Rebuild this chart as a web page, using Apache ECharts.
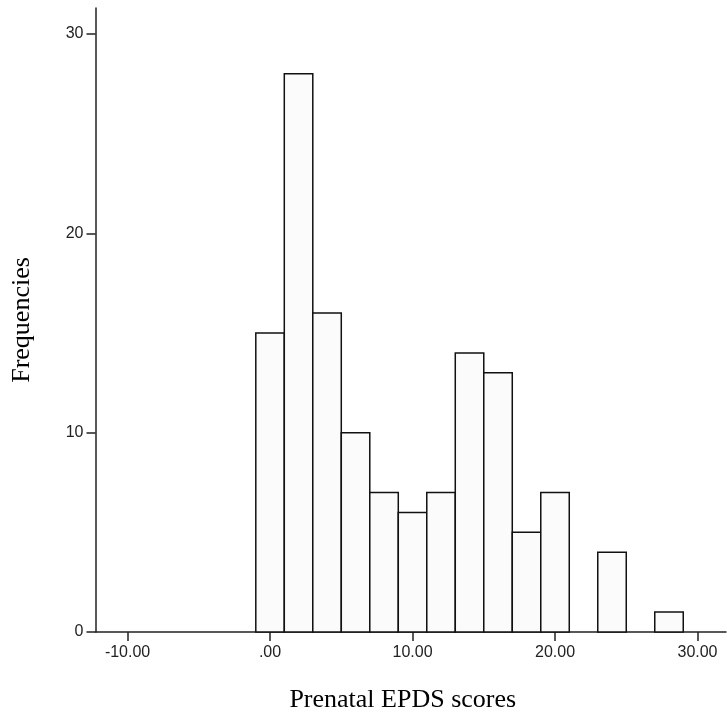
<!DOCTYPE html>
<html>
<head>
<meta charset="utf-8">
<script src="https://cdn.jsdelivr.net/npm/echarts@6/dist/echarts.min.js"></script>
<style>
    html, body { margin: 0; padding: 0; background: #fff; }
    #histChart { width: 727px; height: 722px; }
</style>
</head>
<body>
<div id="histChart"></div>
<script>
// histogram bins (left edge of each bin) and their frequencies
const binStarts = [-1, 1, 3, 5, 7, 9, 11, 13, 15, 17, 19, 21, 23, 25, 27];
const counts = [15, 28, 16, 10, 7, 6, 7, 14, 13, 5, 7, 0, 4, 0, 1];
const binWidth = 2;
const xTicks = [-10, 0, 10, 20, 30];
const yTicks = [0, 10, 20, 30];

// SPSS style labels: .00 / 10.00 / -10.00
function fmtX (v) {
    let s = Math.abs(v).toFixed(2);
    if (s.charAt(0) === '0') s = s.substring(1);
    return (v < 0 ? '-' : '') + s;
}

const barData = binStarts.map((s, i) => [s, s + binWidth, counts[i]]);

const myChart = echarts.init(document.getElementById('histChart'));
const option = {
    backgroundColor: '#fff',
    animation: false,
    grid: {
        left: 95.5,
        right: 1,
        top: 8,
        bottom: 90
    },
    xAxis: {
        type: 'value',
        min: -12.25,
        max: 32,
        name: 'Prenatal EPDS scores',
        nameLocation: 'middle',
        nameGap: 55,
        nameTextStyle: {
            fontFamily: 'Liberation Serif',
            fontSize: 26,
            color: '#000',
            padding: [0, 16, 0, 0]
        },
        splitLine: { show: false },
        axisLine: { onZero: false, lineStyle: { color: '#222', width: 1.5 } },
        axisTick: { customValues: xTicks, length: 9, lineStyle: { color: '#222', width: 1.5 } },
        axisLabel: {
            customValues: xTicks,
            formatter: fmtX,
            margin: 13,
            fontFamily: 'Liberation Sans',
            fontSize: 16,
            color: '#222'
        }
    },
    yAxis: {
        type: 'value',
        min: 0,
        max: 31.3,
        name: 'Frequencies',
        nameLocation: 'middle',
        nameGap: 60,
        nameTextStyle: {
            fontFamily: 'Liberation Serif',
            fontSize: 26,
            color: '#000'
        },
        splitLine: { show: false },
        axisLine: { show: true, onZero: false, lineStyle: { color: '#222', width: 1.5 } },
        axisTick: { show: true, customValues: yTicks, length: 9, lineStyle: { color: '#222', width: 1.5 } },
        axisLabel: {
            customValues: yTicks,
            margin: 12,
            fontFamily: 'Liberation Sans',
            fontSize: 16,
            color: '#222'
        }
    },
    series: [
        {
            type: 'custom',
            data: barData,
            renderItem: function (params, api) {
                if (!api.value(2)) return;
                const p0 = api.coord([api.value(0), 0]);
                const p1 = api.coord([api.value(1), api.value(2)]);
                return {
                    type: 'rect',
                    shape: { x: p0[0], y: p1[1], width: p1[0] - p0[0], height: p0[1] - p1[1] },
                    style: { fill: '#fbfbfb', stroke: '#111', lineWidth: 1.5 }
                };
            }
        }
    ]
};
myChart.setOption(option);
</script>
</body>
</html>
